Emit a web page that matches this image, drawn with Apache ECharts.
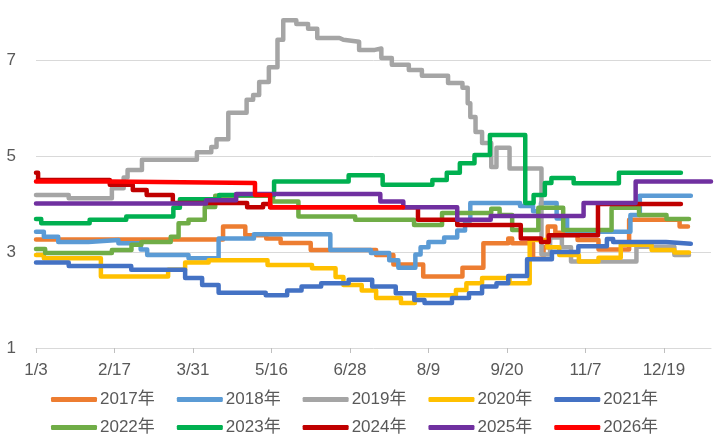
<!DOCTYPE html>
<html>
<head>
<meta charset="utf-8">
<script src="https://cdn.jsdelivr.net/npm/echarts@6/dist/echarts.min.js"></script>
<style>
  html, body { margin: 0; padding: 0; background: #fff; }
  #container { width: 720px; height: 444px; }
</style>
</head>
<body>
<div id="container"></div>
<script>
// x is trading-day index from 1/3; a label every 30 days
var xLabels = ['1/3', '2/17', '3/31', '5/16', '6/28', '8/9', '9/20', '11/7', '12/19'];
var yearNames = ['2017年', '2018年', '2019年', '2020年', '2021年', '2022年', '2023年', '2024年', '2025年', '2026年'];
var colors = ['#ED7D31', '#5B9BD5', '#A5A5A5', '#FFC000', '#4472C4', '#70AD47', '#00B050', '#C00000', '#7030A0', '#FF0000'];

// [day, value] at each change of level
var y2017 = [[0,3.26],[71.5,3.53],[80,3.35],[88,3.28],[93.5,3.19],[105,3.04],[130,2.94],[136.6,2.74],[148,2.49],[163,2.67],[171,3.18],[180.5,3.28],[182,3.18],[190,2.86],[194,3.1],[195.6,3.53],[198.5,3.4],[207,3.25],[215,3.05],[226.7,3.67],[246,3.53],[249.2,3.53]];
var y2018 = [[0,3.42],[3,3.32],[8.5,3.21],[20,3.25],[31.5,3.18],[40,3.05],[42.5,2.94],[58.3,2.87],[69.8,3.28],[83.3,3.37],[112.5,3.04],[128,2.98],[135,2.83],[138.5,2.67],[145,2.95],[147,3.1],[150,3.21],[156,3.3],[161,3.45],[164,3.65],[166,4.02],[185,3.96],[190,3.85],[193,4.02],[199,3.7],[203,3.42],[227.2,3.77],[230.8,4.17],[250.3,4.17]];
var y2019 = [[0,4.19],[12.5,4.12],[29,4.33],[33.5,4.55],[35,4.71],[40.5,4.92],[61.5,5.08],[67,5.19],[69,5.35],[73.5,5.9],[80.5,6.17],[83,6.27],[85.3,6.54],[89,6.85],[92.3,7.42],[94.5,7.83],[99.5,7.75],[104,7.65],[107.5,7.46],[116,7.42],[117.5,7.38],[123.5,7.21],[129.5,7.24],[132,7.04],[136,6.9],[142.5,6.79],[147.5,6.67],[157.5,6.52],[163,6.42],[165,6.1],[166,5.81],[168,5.5],[170.5,5.27],[174,4.77],[176,5.17],[181,4.74],[193.2,2.95],[196.5,3.3],[201,3.1],[204.5,2.8],[229.5,3.11],[244,2.94],[249.6,2.94]];
var y2020 = [[0,2.94],[3,2.87],[24.8,2.49],[50.5,2.63],[57,2.78],[66,2.83],[88.5,2.73],[105.5,2.66],[114.5,2.48],[117.5,2.31],[124.5,2.2],[130,2.04],[139.5,1.94],[144.8,2.1],[160.5,2.21],[164.5,2.35],[170.5,2.46],[181,2.35],[188.7,3.25],[195.5,3.1],[200,2.94],[207.5,2.8],[215,2.88],[223.5,3.15],[235.3,3.04],[244,2.99],[249.6,2.99]];
var y2021 = [[0,2.78],[12.5,2.71],[36.4,2.63],[57,2.46],[63.5,2.31],[69.8,2.15],[87.8,2.1],[96,2.2],[101.5,2.28],[109,2.35],[119.5,2.42],[128.5,2.28],[137.5,2.14],[144.6,2.0],[148.5,1.94],[159,2.04],[165.5,2.14],[170.5,2.28],[176,2.35],[180.5,2.5],[187.7,2.85],[197.2,3.0],[207.3,3.12],[218.2,3.27],[220.6,3.21],[240.8,3.17],[250.3,3.17]];
var y2022 = [[0,3.06],[3.5,2.98],[29,3.04],[36.5,3.15],[40.3,3.21],[51.5,3.32],[54.5,3.6],[58.3,3.67],[64.5,3.94],[68.5,4.17],[90.6,4.05],[100.3,3.74],[122,3.67],[144.5,3.56],[155.2,3.81],[174,3.9],[177.2,3.77],[182,3.46],[192,3.92],[201.5,3.46],[220,3.92],[230.5,3.77],[241,3.69],[249.6,3.69]];
var y2023 = [[0,3.69],[2,3.6],[20.5,3.67],[34.5,3.74],[52.5,3.92],[55,4.1],[70,4.19],[91,4.47],[119.5,4.6],[132.5,4.4],[151.5,4.5],[157,4.65],[162,4.85],[167.6,5.02],[173.5,5.44],[187,4.02],[190.2,4.19],[194.5,4.44],[197,4.54],[205.5,4.43],[222.8,4.65],[246.5,4.65]];
var y2024 = [[0,4.65],[0.8,4.5],[28.2,4.4],[37,4.29],[42.3,4.19],[52.3,4.02],[80.7,3.93],[86.8,4.0],[89.5,3.93],[146,3.67],[161,3.56],[185.3,3.28],[193,3.21],[196,3.35],[214.8,4.0],[246.5,4.0]];
var y2025 = [[0,4.01],[65,4.08],[76.5,4.21],[131.6,4.05],[140.4,3.93],[161,3.67],[173.8,3.75],[209.3,4.02],[229.2,4.47],[258,4.47]];
var y2026 = [[0,4.47],[28,4.44],[83.7,4.19],[89.5,3.93],[140.3,3.93]];

var seriesData = [y2017, y2018, y2019, y2020, y2021, y2022, y2023, y2024, y2025, y2026];
var tickDays = xLabels.map(function (_, i) { return i * 30; });

var dom = document.getElementById('container');
var myChart = echarts.init(dom, null, { renderer: 'canvas' });

var font = 'Liberation Sans, Noto Sans CJK SC, sans-serif';
var legendBase = {
  left: 46,
  icon: 'roundRect',
  itemWidth: 46,
  itemHeight: 5,
  itemGap: 22,
  textStyle: { color: '#595959', fontSize: 17, fontFamily: font, padding: [0, 0, 0, -2] }
};

var option = {
  color: colors,
  animation: false,
  grid: { left: 36, right: 9, top: 12, bottom: 96 },
  legend: [
    Object.assign({ top: 386, data: yearNames.slice(0, 5) }, legendBase),
    Object.assign({ top: 414, data: yearNames.slice(5) }, legendBase)
  ],
  xAxis: {
    type: 'value',
    min: 0,
    max: 258,
    interval: 30,
    axisLine: { lineStyle: { color: '#D9D9D9', width: 1 } },
    axisTick: { show: true, length: 5, customValues: tickDays, lineStyle: { color: '#BFBFBF' } },
    axisLabel: {
      customValues: tickDays,
      margin: 14,
      color: '#595959',
      fontSize: 17,
      fontFamily: font,
      formatter: function (v) { return xLabels[Math.round(v / 30)] || ''; }
    },
    splitLine: { show: false }
  },
  yAxis: {
    type: 'value',
    min: 1,
    max: 8,
    interval: 2,
    axisLine: { show: false },
    axisTick: { show: false },
    axisLabel: { margin: 20, color: '#595959', fontSize: 17, fontFamily: font, showMaxLabel: false },
    splitLine: { showMinLine: false, showMaxLine: false, lineStyle: { color: '#D9D9D9', width: 1 } }
  },
  series: yearNames.map(function (name, i) {
    return {
      name: name,
      type: 'line',
      step: 'end',
      symbol: 'none',
      data: seriesData[i],
      lineStyle: { width: 4.5, cap: 'round', join: 'round' }
    };
  })
};

myChart.setOption(option);
window.addEventListener('resize', myChart.resize);
</script>
</body>
</html>
